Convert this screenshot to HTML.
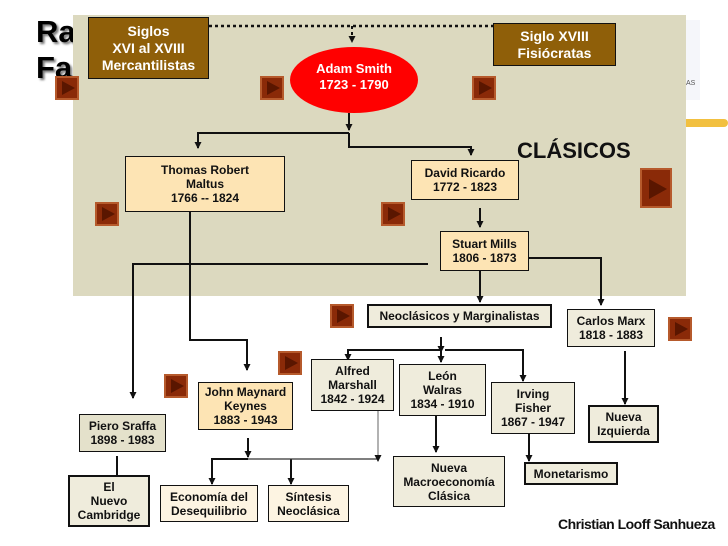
<!DOCTYPE html>
<html><head><meta charset="utf-8"><style>
body{margin:0;width:728px;height:546px;background:#fff;position:relative;overflow:hidden;font-family:"Liberation Sans",Arial,sans-serif}
.a{position:absolute}
.b{position:absolute;box-sizing:border-box;border:1.5px solid #111;display:flex;align-items:center;justify-content:center;text-align:center;font-weight:bold;font-size:12px;line-height:14px;color:#111}
.p{background:#fde4b4}
.g{background:#efecdc}
.c{background:#fdf4e2}
.br{background:#8f5f09;color:#fff;font-size:14px;line-height:17px}
.btn{position:absolute;width:24px;height:24px;box-sizing:border-box;background:#8a2a08;border:2px solid #b65a2c}
.btn::after{content:"";position:absolute;left:5px;top:3px;border-left:13px solid #5a1600;border-top:7px solid transparent;border-bottom:7px solid transparent}
.big::after{left:7px;top:9px;border-left:18px solid #5a1600;border-top:10px solid transparent;border-bottom:10px solid transparent}
</style></head><body>
<div class="a" style="left:36px;top:14px;font-size:31px;font-weight:bold;line-height:36px;text-shadow:2px 2px 2px #777">Ra<br>Fa</div>
<div class="a" style="left:686px;top:20px;width:14px;height:80px;background:#f5f6fa"></div>
<div class="a" style="left:686px;top:80px;font-size:7px;color:#555">AS</div>
<div class="a" style="left:686px;top:119px;width:42px;height:8px;background:#f2c040;border-radius:0 4px 4px 0"></div>
<div class="a" style="left:73px;top:15px;width:613px;height:281px;background:#dcd9bf"></div>

<svg class="a" style="left:0;top:0" width="728" height="546">
<defs><marker id="m" markerUnits="userSpaceOnUse" markerWidth="7" markerHeight="7" refX="6" refY="3.5" orient="auto"><path d="M0,0L7,3.5L0,7z" fill="#111"/></marker></defs>
<g stroke="#111" stroke-width="2.5" fill="none">
<path d="M209,26H493" stroke-dasharray="3,3"/>
<path d="M352,26V42" stroke-dasharray="3,3" marker-end="url(#m)" stroke-width="2"/>
</g>
<g stroke="#111" stroke-width="2" fill="none" marker-end="url(#m)">
<path d="M349,113V130"/>
<path d="M349,133H198V148"/>
<path d="M349,133V147H471V155"/>
<path d="M480,208V227"/>
<path d="M428,264H133V398"/>
<path d="M529,258H601V305"/>
<path d="M480,271V302"/>
<path d="M190,212V340H247V370"/>
<path d="M441,337V352"/>
<path d="M441,350H348V360"/>
<path d="M441,350V362"/>
<path d="M445,350H523V381"/>
<path d="M625,351V404"/>
<path d="M436,416V452"/>
<path d="M529,433V461"/>
<path d="M248,438V457"/>
<path d="M248,459H212V484"/>
<path d="M291,459V484"/>
</g>
<path d="M248,459H378" stroke="#333" stroke-width="1.3"/>
<path d="M378,411V461" stroke="#999" stroke-width="1.5" marker-end="url(#m)"/>
<path d="M117,456V475" stroke="#111" stroke-width="2"/>
<ellipse cx="354" cy="80" rx="64" ry="33" fill="#ff0000"/>
<text x="354" y="73" text-anchor="middle" fill="#fff" font-weight="bold" font-size="13" font-family="Liberation Sans,sans-serif">Adam Smith</text>
<text x="354" y="89" text-anchor="middle" fill="#fff" font-weight="bold" font-size="13" font-family="Liberation Sans,sans-serif">1723 - 1790</text>
</svg>

<div class="b br" style="left:88px;top:17px;width:121px;height:62px">Siglos<br>XVI al XVIII<br>Mercantilistas</div>
<div class="b br" style="left:493px;top:23px;width:123px;height:43px">Siglo XVIII<br>Fisiócratas</div>
<div class="a" style="left:517px;top:138px;font-size:22px;font-weight:bold;color:#111">CLÁSICOS</div>

<div class="btn" style="left:55px;top:76px"></div>
<div class="btn" style="left:260px;top:76px"></div>
<div class="btn" style="left:472px;top:76px"></div>
<div class="btn" style="left:95px;top:202px"></div>
<div class="btn" style="left:381px;top:202px"></div>
<div class="btn big" style="left:640px;top:168px;width:32px;height:40px"></div>
<div class="btn" style="left:330px;top:304px"></div>
<div class="btn" style="left:278px;top:351px"></div>
<div class="btn" style="left:164px;top:374px"></div>
<div class="btn" style="left:668px;top:317px"></div>

<div class="b p" style="left:125px;top:156px;width:160px;height:56px">Thomas Robert<br>Maltus<br>1766 -- 1824</div>
<div class="b p" style="left:411px;top:160px;width:108px;height:40px">David Ricardo<br>1772 - 1823</div>
<div class="b p" style="left:440px;top:231px;width:89px;height:40px">Stuart Mills<br>1806 - 1873</div>
<div class="b g" style="left:367px;top:304px;width:185px;height:24px;border-width:2px">Neoclásicos y Marginalistas</div>
<div class="b g" style="left:567px;top:309px;width:88px;height:38px">Carlos Marx<br>1818 - 1883</div>
<div class="b g" style="left:311px;top:359px;width:83px;height:52px">Alfred<br>Marshall<br>1842 - 1924</div>
<div class="b g" style="left:399px;top:364px;width:87px;height:52px">León<br>Walras<br>1834 - 1910</div>
<div class="b g" style="left:491px;top:382px;width:84px;height:52px">Irving<br>Fisher<br>1867 - 1947</div>
<div class="b g" style="left:588px;top:405px;width:71px;height:38px;border-width:2px">Nueva<br>Izquierda</div>
<div class="b g" style="left:393px;top:456px;width:112px;height:51px">Nueva<br>Macroeconomía<br>Clásica</div>
<div class="b g" style="left:524px;top:462px;width:94px;height:23px;border-width:2px">Monetarismo</div>
<div class="b p" style="left:198px;top:382px;width:95px;height:48px">John Maynard<br>Keynes<br>1883 - 1943</div>
<div class="b g" style="left:79px;top:414px;width:87px;height:38px;background:#e4e1cb">Piero Sraffa<br>1898 - 1983</div>
<div class="b g" style="left:68px;top:475px;width:82px;height:52px;border-width:2.5px">El<br>Nuevo<br>Cambridge</div>
<div class="b c" style="left:160px;top:485px;width:98px;height:37px">Economía del<br>Desequilibrio</div>
<div class="b c" style="left:268px;top:485px;width:81px;height:37px">Síntesis<br>Neoclásica</div>
<div class="a" style="left:558px;top:516px;font-size:14px;font-weight:bold;letter-spacing:-0.5px;color:#111">Christian Looff Sanhueza</div>
</body></html>
